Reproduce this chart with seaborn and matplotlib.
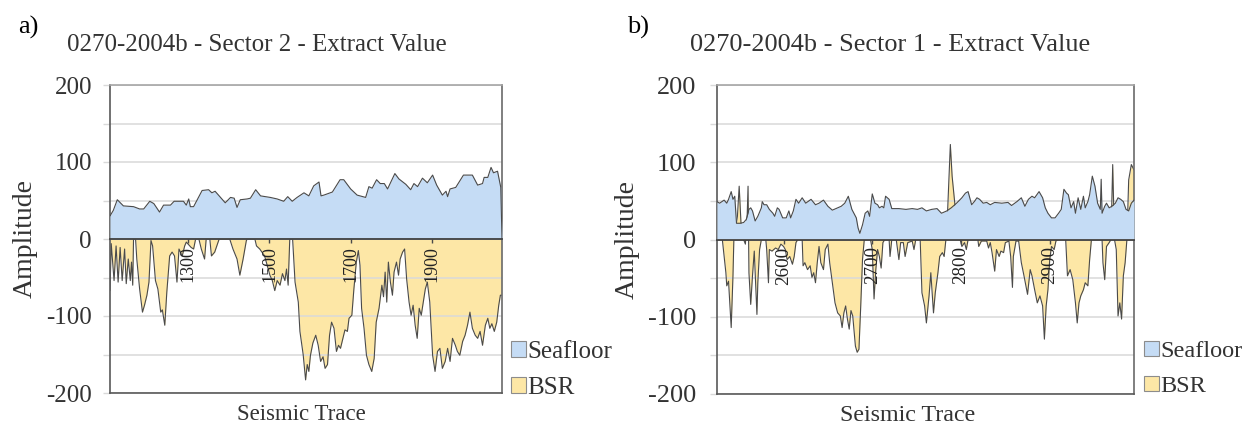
import matplotlib
matplotlib.use("Agg")
import matplotlib.pyplot as plt
import seaborn as sns
from matplotlib.patches import Patch
from matplotlib.ticker import MultipleLocator

# ---- panel a) : Sector 2 ----
s2_floor_trace = [1107, 1115, 1125, 1140, 1165, 1180, 1190, 1205, 1215, 1229, 1239, 1256, 1265, 1280, 1288,
                  1295, 1301, 1305, 1313, 1334, 1350, 1358, 1366, 1391, 1404, 1413, 1420, 1428, 1445, 1453,
                  1466, 1478, 1490, 1502, 1519, 1535, 1545, 1556, 1568, 1585, 1597, 1609, 1622, 1627, 1634,
                  1655, 1674, 1683, 1700, 1716, 1737, 1745, 1753, 1764, 1773, 1783, 1791, 1809, 1819, 1836,
                  1848, 1856, 1865, 1877, 1889, 1902, 1912, 1926, 1935, 1939, 1945, 1959, 1978, 2000, 2013,
                  2025, 2029, 2038, 2046, 2052, 2062, 2070, 2073]
s2_floor_amp = [30, 37, 51, 43, 42, 39, 39, 49, 46, 35, 44, 44, 49, 49, 49,
                44, 52, 42, 42, 63, 64, 60, 62, 47, 54, 53, 41, 51, 52, 53,
                64, 56, 55, 54, 52, 49, 55, 49, 54, 60, 56, 69, 74, 56, 57,
                61, 77, 77, 65, 57, 54, 68, 66, 77, 72, 72, 65, 85, 78, 71,
                64, 72, 68, 79, 73, 83, 70, 57, 62, 55, 65, 67, 83, 83, 70,
                72, 80, 80, 93, 86, 88, 67, 0]

s2_bsr_trace = [1107, 1110, 1117, 1122, 1127, 1132, 1137, 1143, 1147, 1152, 1157, 1160, 1163, 1165, 1170,
                1173, 1180, 1187, 1192, 1198, 1203, 1208, 1212, 1219, 1225, 1232, 1236, 1242, 1247, 1254,
                1260, 1266, 1272, 1277, 1285, 1291, 1295, 1307, 1313, 1318, 1326, 1332, 1340, 1344, 1353,
                1357, 1365, 1376, 1402, 1410, 1420, 1427, 1435, 1443, 1445, 1464, 1468, 1476, 1488, 1501,
                1507, 1513, 1519, 1526, 1532, 1538, 1542, 1546, 1550, 1557, 1563, 1571, 1575, 1583, 1589,
                1593, 1597, 1601, 1607, 1614, 1620, 1626, 1632, 1637, 1643, 1648, 1653, 1659, 1665, 1670,
                1675, 1681, 1686, 1692, 1696, 1703, 1708, 1714, 1719, 1723, 1727, 1733, 1739, 1745, 1752,
                1758, 1763, 1770, 1777, 1781, 1785, 1789, 1793, 1798, 1803, 1807, 1813, 1818, 1822, 1828,
                1833, 1838, 1844, 1849, 1854, 1859, 1864, 1869, 1874, 1879, 1884, 1889, 1895, 1902, 1908,
                1914, 1920, 1926, 1933, 1939, 1945, 1951, 1958, 1963, 1969, 1976, 1982, 1988, 1994, 2000,
                2007, 2013, 2019, 2025, 2032, 2038, 2043, 2048, 2054, 2060, 2065, 2069, 2072]
s2_bsr_amp = [-67, -6, -54, -9, -56, -11, -54, -13, -58, -26, -54, -30, -60, 0, 0,
              -26, -65, -95, -86, -73, -56, -2, -9, -54, -65, -95, -92, -112, -69, -22,
              -17, -22, -56, -13, -22, -9, -4, -11, -13, 0, 0, -13, -26, 0, 0,
              -22, -17, 0, 0, -13, -26, -47, -26, -2, 0, 0, -9, -13, -22, -47,
              -54, -67, -54, -60, -45, -54, -39, -60, 0, 0, -56, -82, -120, -150, -183,
              -163, -172, -151, -135, -125, -138, -159, -153, -168, -163, -125, -108, -116, -146, -138,
              -142, -129, -118, -120, -103, -99, -65, -30, -15, -34, -90, -116, -151, -163, -172,
              -155, -108, -90, -60, -75, -43, -82, -30, -56, -73, -43, -30, -47, -26, -17,
              -13, -52, -82, -99, -86, -112, -129, -90, -99, -82, -65, -56, -82, -151, -172,
              -146, -142, -168, -159, -142, -159, -129, -138, -146, -151, -133, -125, -112, -95, -116,
              -125, -129, -120, -138, -112, -103, -116, -110, -120, -108, -86, -73, -73]

# ---- panel b) : Sector 1 ----
s1_floor_trace = [2525, 2528, 2533, 2536, 2538, 2541, 2543, 2545, 2547, 2551, 2555, 2558, 2561, 2563, 2565,
                  2568, 2571, 2575, 2576, 2578, 2581, 2584, 2588, 2590, 2593, 2595, 2599, 2603, 2606, 2608,
                  2611, 2614, 2617, 2621, 2625, 2631, 2636, 2640, 2645, 2650, 2655, 2659, 2665, 2669, 2673,
                  2677, 2682, 2684, 2686, 2689, 2692, 2695, 2697, 2700, 2703, 2706, 2708, 2711, 2713, 2715,
                  2719, 2722, 2730, 2738, 2745, 2751, 2756, 2761, 2767, 2773, 2778, 2784, 2789, 2795, 2801,
                  2805, 2808, 2812, 2815, 2818, 2821, 2825, 2829, 2833, 2838, 2846, 2853, 2857, 2863, 2868,
                  2872, 2876, 2880, 2883, 2888, 2892, 2895, 2898, 2902, 2906, 2910, 2913, 2916, 2919, 2921,
                  2924, 2927, 2929, 2932, 2935, 2938, 2940, 2943, 2945, 2948, 2951, 2954, 2957, 2958, 2959,
                  2962, 2964, 2967, 2970, 2974, 2977, 2980, 2983, 2986, 2989, 2992, 2995]
s1_floor_amp = [49, 47, 51, 47, 52, 62, 52, 56, 21, 21, 22, 26, 39, 41, 37,
                24, 30, 41, 49, 45, 45, 39, 34, 30, 41, 39, 28, 28, 37, 28,
                37, 52, 47, 54, 47, 52, 45, 47, 51, 43, 38, 40, 43, 47, 56,
                39, 28, 15, 8, 19, 34, 37, 30, 59, 47, 45, 41, 43, 41, 56,
                52, 40, 40, 39, 40, 39, 41, 37, 39, 40, 34, 37, 41, 47, 54,
                60, 62, 45, 49, 54, 52, 47, 48, 45, 48, 47, 48, 44, 49, 54,
                43, 52, 56, 54, 62, 54, 41, 34, 28, 28, 34, 39, 65, 60, 58,
                41, 49, 34, 54, 39, 56, 41, 49, 58, 82, 69, 47, 39, 78, 34,
                43, 47, 41, 43, 47, 54, 52, 49, 39, 37, 47, 51]

s1_bsr_trace = [2525, 2531, 2533, 2535, 2536, 2538, 2541, 2543, 2544, 2548, 2550, 2552, 2555, 2557, 2559,
                2560, 2561, 2563, 2565, 2567, 2569, 2570, 2571, 2573, 2575, 2580, 2581, 2583, 2584, 2587,
                2591, 2594, 2597, 2600, 2602, 2604, 2607, 2610, 2612, 2614, 2616, 2621, 2622, 2624, 2627,
                2630, 2632, 2634, 2636, 2638, 2640, 2642, 2645, 2647, 2650, 2652, 2655, 2658, 2661, 2664,
                2666, 2668, 2670, 2672, 2674, 2676, 2678, 2681, 2683, 2685, 2687, 2689, 2691, 2698, 2700,
                2702, 2704, 2706, 2708, 2710, 2712, 2714, 2719, 2720, 2722, 2727, 2730, 2732, 2735, 2737,
                2740, 2745, 2747, 2749, 2754, 2756, 2759, 2761, 2764, 2766, 2769, 2771, 2774, 2776, 2779,
                2781, 2783, 2785, 2788, 2790, 2793, 2796, 2799, 2801, 2804, 2806, 2808, 2819, 2820, 2823,
                2829, 2831, 2833, 2835, 2838, 2840, 2843, 2845, 2848, 2850, 2854, 2856, 2858, 2859, 2862,
                2865, 2868, 2871, 2875, 2878, 2880, 2883, 2886, 2889, 2892, 2894, 2896, 2898, 2900, 2902,
                2905, 2907, 2909, 2918, 2920, 2923, 2926, 2929, 2931, 2933, 2935, 2938, 2940, 2943, 2945,
                2947, 2959, 2960, 2962, 2964, 2967, 2969, 2971, 2973, 2975, 2977, 2979, 2981, 2983, 2985,
                2987, 2989, 2992, 2995]
s1_bsr_amp = [0, 0, -22, -43, -60, -54, -114, -47, 0, 30, 69, 22, 0, -6, 30,
              69, -43, -84, -47, -15, -69, -97, -56, -13, 0, 0, -13, -56, -13, -15,
              -11, -13, -6, -9, -13, -26, -22, -32, -22, -4, 0, 0, -34, -30, -39,
              -34, -49, -43, -56, -30, -9, -30, -39, -13, -6, -30, -56, -82, -95, -99,
              -114, -95, -86, -103, -116, -92, -99, -138, -146, -142, -86, -26, 0, 0, -13,
              -77, -39, -13, -22, -37, -4, 0, 0, -22, 0, 0, -26, -4, -4, -22,
              -4, -2, -13, 0, 0, -69, -86, -108, -73, -43, -95, -69, -43, -22, -17,
              -22, 0, 39, 123, 82, 47, 0, 0, -9, -4, -13, 0, 0, -9, -2,
              -2, -11, -4, -17, -41, -13, -22, -15, -17, -4, -2, -22, -62, -22, -2,
              -2, -30, -47, -71, -39, -47, -65, -82, -73, -86, -129, -86, -65, -26, -9,
              -13, -2, 0, 0, -47, -39, -52, -82, -108, -82, -73, -65, -56, -60, -26,
              0, 0, -30, -52, -9, -4, 0, 97, 0, -13, -99, -82, -103, -47, -30,
              0, 77, 97, 90]

y_ticks = [200, 100, 0, -100, -200]
s2_ticks = [1300, 1500, 1700, 1900]
s1_ticks = [2600, 2700, 2800, 2900]
legend_labels = ["Seafloor", "BSR"]

BLUE = "#c5dcf5"
YELLOW = "#fde7a6"
EDGE = "#4a4a4a"
TEXT = "#333333"
GRID = "#d9d9d9"

sns.set_theme(style="white")
plt.rcParams["font.family"] = ["Liberation Serif", "DejaVu Serif"]
plt.rcParams["axes.unicode_minus"] = False

fig = plt.figure(figsize=(12.45, 4.25), dpi=100)
W, H = 1245, 425


def panel(rect, floor_x, floor_y, bsr_x, bsr_y, xlim, ticks, title, title_x, letter, letter_x,
          leg_x, leg_fs, xlab_x, fs):
    ax = fig.add_axes([rect[0] / W, rect[1] / H, rect[2] / W, rect[3] / H])
    ax.fill_between(bsr_x, bsr_y, 0, color=YELLOW, lw=0, zorder=1)
    sns.lineplot(x=bsr_x, y=bsr_y, ax=ax, color=EDGE, linewidth=0.8, estimator=None, sort=False, zorder=2)
    ax.fill_between(floor_x, floor_y, 0, color=BLUE, lw=0, zorder=3)
    sns.lineplot(x=floor_x, y=floor_y, ax=ax, color=EDGE, linewidth=0.8, estimator=None, sort=False, zorder=4)

    ax.set_xlim(*xlim)
    ax.set_ylim(-200, 200)
    ax.set_yticks(y_ticks)
    ax.yaxis.set_minor_locator(MultipleLocator(50))
    ax.set_axisbelow("line")
    ax.grid(which="both", axis="y", color=GRID, lw=1.1, zorder=1.5)
    ax.grid(axis="x", visible=False)
    ax.tick_params(axis="y", which="both", left=True, length=5, width=1, color=GRID,
                   labelsize=18 * fs, labelcolor=TEXT, pad=8 + 4 * (fs - 1) * 10)
    ax.tick_params(axis="x", bottom=False, labelbottom=False)
    for side, col in [("left", "#595959"), ("bottom", "#595959"), ("right", "#6a6a6a"), ("top", "#a6a6a6")]:
        ax.spines[side].set_color(col)
        ax.spines[side].set_linewidth(1.2)
    ax.set_xlabel("Seismic Trace", fontsize=16.5 * fs, color=TEXT)
    ax.xaxis.set_label_coords((xlab_x - rect[0]) / rect[2], -0.035, transform=None)
    ax.xaxis.label.set_va("top")
    ax.set_ylabel("Amplitude", fontsize=20, color=TEXT, labelpad=6)

    # trace axis drawn along the zero line
    sec = ax.secondary_xaxis(0.5)
    sec.set_alignment("bottom")
    sec.set_zorder(10)
    sec.set_xticks(ticks)
    sec.tick_params(axis="x", length=3, width=1, color=EDGE, labelsize=13 * fs, labelcolor="#222222",
                    rotation=90, pad=2)
    for s in sec.spines.values():
        s.set_color("#404040")
        s.set_linewidth(1.3)

    fig.text(title_x / W, 1 - 51 / H, title, ha="center", va="baseline", fontsize=18 * fs, color=TEXT)
    fig.text(letter_x / W, 1 - 34 / H, letter, ha="left", va="baseline", fontsize=19, color="black")

    handles = [Patch(facecolor=BLUE, edgecolor="#8c8c8c", lw=0.8),
               Patch(facecolor=YELLOW, edgecolor="#8c8c8c", lw=0.8)]
    fig.legend(handles, legend_labels, loc="upper left", bbox_to_anchor=(leg_x / W, 1 - 341 / H),
               frameon=False, borderpad=0, borderaxespad=0, handlelength=0.6, handleheight=0.6,
               handletextpad=0.06, labelspacing=0.55, fontsize=leg_fs, labelcolor=TEXT)
    return ax


panel((110, 32, 392, 308), s2_floor_trace, s2_floor_amp, s2_bsr_trace, s2_bsr_amp,
      (1107, 2073), s2_ticks, "0270-2004b - Sector 2 - Extract Value", 257, "a)", 18,
      511, 18, 301, 1.0)
panel((717, 31, 417, 309), s1_floor_trace, s1_floor_amp, s1_bsr_trace, s1_bsr_amp,
      (2525, 2995), s1_ticks, "0270-2004b - Sector 1 - Extract Value", 890, "b)", 627,
      1144, 17.5, 908, 1.05)

fig.savefig("out.png", dpi=100, facecolor="white")
